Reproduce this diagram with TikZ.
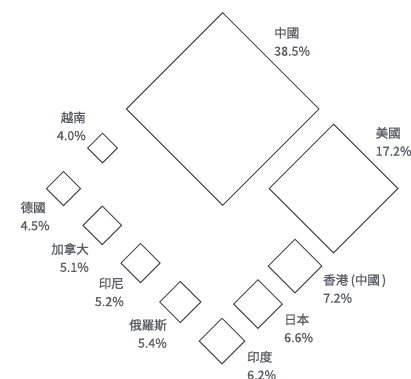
\documentclass[tikz,border=0pt]{standalone}
\usepackage{fontspec}
\setmainfont{Noto Sans CJK TC}[FakeBold=1.2]
\usetikzlibrary{shapes.geometric}
\definecolor{linec}{HTML}{454545}
\definecolor{textc}{HTML}{5A5E66}
\tikzset{
  dia/.style={diamond, draw=linec, line width=1pt, inner sep=0pt, aspect=1, minimum size=#1},
  lab/.style={text=textc, inner sep=0pt, font=\fontsize{12.5}{18}\selectfont},
  labl/.style={lab, align=left, anchor=west},
  labr/.style={lab, align=right, anchor=east}
}
\begin{document}
\begin{tikzpicture}[x=1pt,y=-1pt]
\useasboundingbox (0,0) rectangle (411,378);
\node[dia=193pt] (cn) at (222.7,109) {};
\node[dia=129pt] (us) at (333.5,188.5) {};
\node[dia=54pt] (hk) at (295,266) {};
\node[dia=49pt] (jp) at (258,304) {};
\node[dia=46pt] (in) at (222,341) {};
\node[dia=30pt] (vn) at (102.5,148) {};
\node[dia=34.5pt] (de) at (63.5,188.5) {};
\node[dia=39pt] (ca) at (102.3,225.3) {};
\node[dia=39.5pt] (id) at (140.5,263) {};
\node[dia=41.5pt] (ru) at (180.3,302) {};
\node[labl] (lcn) at (274,41.5) {中國\\38.5\%};
\node[labl] (lus) at (375.5,141.5) {美國\\17.2\%};
\node[labl] (lhk) at (323,288.5) {香港\hspace{2.5pt}(中國\hspace{2pt})\\7.2\%};
\node[labl] (ljp) at (284,328) {日本\\6.6\%};
\node[labl] (lin) at (247,365.5) {印度\\6.2\%};
\node[labr] (lvn) at (86,126) {越南\\4.0\%};
\node[labl] (lde) at (20.5,216) {德國\\4.5\%};
\node[labr] (lca) at (89,257.5) {加拿大\\5.1\%};
\node[labr] (lid) at (124,292) {印尼\\5.2\%};
\node[labr] (lru) at (167,333.5) {俄羅斯\\5.4\%};
\end{tikzpicture}
\end{document}
